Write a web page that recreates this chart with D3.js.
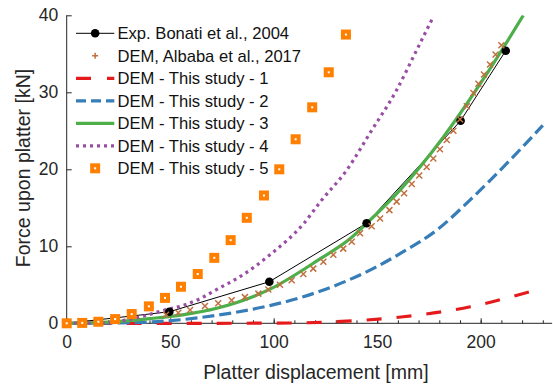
<!DOCTYPE html>
<html><head><meta charset="utf-8">
<script src="https://cdn.jsdelivr.net/npm/d3@7"></script>
<style>
html,body{margin:0;padding:0;background:#fff;}
text{font-family:"Liberation Sans",Arial,Helvetica,sans-serif;}
</style></head>
<body><svg id="c" width="553" height="385"></svg>
<script>
// ---- data ----
const xTicks = [0, 50, 100, 150, 200];
const yTicks = [0, 10, 20, 30, 40];
const legendLabels = ["Exp. Bonati et al., 2004", "DEM, Albaba et al., 2017", "DEM - This study - 1", "DEM - This study - 2", "DEM - This study - 3", "DEM - This study - 4", "DEM - This study - 5"];
const xLabel = "Platter displacement [mm]";
const yLabel = "Force upon platter [kN]";

const expBonati = [[0,0],[49.6,1.5],[97.9,5.4],[144.9,13.0],[190.3,26.3],[212.1,35.4]];
const albaba = [[48,1.1],[53.9,1.38],[59.6,1.73],[66.8,2.25],[73.2,2.6],[79.7,3.0],[86.1,3.4],[92.6,3.85],[97.4,4.4],[103,5.0],[108.7,5.6],[114.3,6.4],[119.1,7.1],[124,8.0],[128.8,8.9],[133.6,9.7],[137.7,10.6],[141.7,11.7],[147.3,12.6],[151.4,13.6],[155.9,14.7],[159.4,15.8],[163,16.9],[166.7,18.1],[170.3,19.2],[173.9,20.3],[177.1,21.4],[180.3,22.6],[183.6,23.8],[186.8,25.0],[190,26.5],[193.3,28.2],[196.5,29.9],[198.9,31.1],[201.6,32.3],[204.5,33.6],[207.2,34.9],[210,36.1]];
const study1 = [[0,0],[60,0],[101,0.02],[130,0.2],[162.6,0.85],[195,2.15],[225,4.2]];
const study2 = [[0,0],[25,0.05],[48,0.3],[81,1.4],[98.2,2.3],[114.3,3.45],[130.4,4.97],[146.5,6.9],[162.6,9.3],[178.8,12.1],[194.8,16.0],[214.2,21.2],[230,25.7]];
const study3 = [[0,0],[20,0.15],[40,0.6],[56,1.1],[72.5,1.95],[98,4.4],[122,8.3],[137,11.0],[145,13.0],[161,17.3],[182,24.2],[201,31.6],[220.6,40]];
const study4 = [[0,0],[16,0.05],[32,0.6],[48.5,1.8],[56,2.3],[64.4,3.2],[72.5,4.4],[83.7,6.05],[98.2,8.9],[114.3,12.9],[123.2,16.0],[135.3,19.9],[146.5,24.7],[159.4,30.3],[169.1,35.5],[177.1,39.8]];
const study5 = [[0,0],[7.5,0.05],[15.3,0.2],[23.4,0.55],[31.4,1.2],[39.7,2.2],[47.5,3.3],[55.2,4.75],[63.3,6.4],[71.3,8.5],[79.2,10.8],[87,13.7],[95.3,16.6],[102.7,20.0],[110.6,23.9],[118.6,28.05],[126.6,32.6],[134.9,37.5]];

// ---- styles ----
const axisCol = "#262626";
const C = {red:"#e41a1c", blue:"#377eb8", green:"#4daf4a", purple:"#984ea3", orange:"#ff7f00", brown:"#c0703f"};

const svg = d3.select("#c");
const x = d3.scaleLinear().domain([0, 234.5]).range([66.7, 552.1]);
const y = d3.scaleLinear().domain([0, 40]).range([323.3, 15.3]);

const line = d3.line().x(d=>x(d[0])).y(d=>y(d[1])).curve(d3.curveMonotoneX);
const lineLin = d3.line().x(d=>x(d[0])).y(d=>y(d[1]));

// axes
const gx = svg.append("g").attr("transform",`translate(0,${y(0)})`);
gx.call(d3.axisBottom(x).tickValues(d3.range(0,235,10)).tickSize(-3).tickFormat(""));
gx.selectAll(".tick line").attr("stroke",axisCol);
gx.select(".domain").attr("stroke",axisCol).attr("d",`M${x(0)},0H${x(234.5)}`);
const gx2 = svg.append("g").attr("transform",`translate(0,${y(0)})`)
  .call(d3.axisBottom(x).tickValues(xTicks).tickSize(-5));
gx2.select(".domain").remove();
gx2.selectAll(".tick line").attr("stroke",axisCol);
gx2.selectAll(".tick text").attr("fill",axisCol).attr("font-size",17.5).attr("dy","0.71em").attr("y",12);

const gy = svg.append("g").attr("transform",`translate(${x(0)},0)`)
  .call(d3.axisLeft(y).tickValues(yTicks).tickSize(-5));
gy.select(".domain").attr("stroke",axisCol).attr("d",`M0,${y(0)}V${y(40)}`);
gy.selectAll(".tick line").attr("stroke",axisCol);
gy.selectAll(".tick text").attr("fill",axisCol).attr("font-size",17.5).attr("x",-8.5);
svg.selectAll(".domain").attr("stroke-width",1);
svg.selectAll("g text").attr("font-family",'"Liberation Sans",Arial,sans-serif');

// axis labels
svg.append("text").attr("x",316).attr("y",378.5).attr("text-anchor","middle")
  .attr("font-size",19.5).attr("fill",axisCol).text(xLabel);
svg.append("text").attr("transform",`translate(30,168) rotate(-90)`).attr("text-anchor","middle")
  .attr("font-size",19.5).attr("fill",axisCol).text(yLabel);

// clip
svg.append("clipPath").attr("id","clip").append("rect").attr("x",x(0)).attr("y",y(40)).attr("width",x(234.5)-x(0)).attr("height",y(0)-y(40)+2);
const P = svg.append("g").attr("clip-path","url(#clip)");
const PM = svg.append("g");

// Exp
P.append("path").attr("d",lineLin(expBonati)).attr("fill","none").attr("stroke","#000").attr("stroke-width",1);
PM.selectAll("circle.exp").data(expBonati).join("circle").attr("class","exp")
  .attr("cx",d=>x(d[0])).attr("cy",d=>y(d[1])).attr("r",4.3).attr("fill","#000");

// Albaba markers
const cross = (s)=>`M${-s},${-s}L${s},${s}M${-s},${s}L${s},${-s}`;
PM.selectAll("path.alb").data(albaba).join("path").attr("class","alb")
  .attr("transform",d=>`translate(${x(d[0])},${y(d[1])})`)
  .attr("d",cross(3)).attr("stroke",C.brown).attr("stroke-width",1.5).attr("fill","none");

// Study lines
P.append("path").attr("d",line(study1)).attr("fill","none").attr("stroke",C.red).attr("stroke-width",3.2).attr("stroke-dasharray","15,15");
P.append("path").attr("d",line(study2)).attr("fill","none").attr("stroke",C.blue).attr("stroke-width",3.2).attr("stroke-dasharray","12,5");
P.append("path").attr("d",line(study3)).attr("fill","none").attr("stroke",C.green).attr("stroke-width",3.2);
P.append("path").attr("d",line(study4)).attr("fill","none").attr("stroke",C.purple).attr("stroke-width",3.2).attr("stroke-dasharray","3,4");

// Study 5 squares
const sq = PM.selectAll("g.s5").data(study5).join("g").attr("class","s5")
  .attr("transform",d=>`translate(${x(d[0])},${y(d[1])})`);
sq.append("rect").attr("x",-5).attr("y",-5).attr("width",10).attr("height",10).attr("fill",C.orange);
sq.append("rect").attr("x",-1).attr("y",-1).attr("width",2).attr("height",2).attr("fill","#fff");

// legend
const L = svg.append("g");
const ly0 = 33.3, ldy = 22.5, lx0 = 76, lx1 = 114.3, ltx = 117.5;
legendLabels.forEach((t,i)=>{
  const yy = ly0 + i*ldy;
  const g = L.append("g");
  const cx=(lx0+lx1)/2;
  if(i===0){
    g.append("line").attr("x1",lx0).attr("x2",lx1).attr("y1",yy).attr("y2",yy).attr("stroke","#000").attr("stroke-width",1);
    g.append("circle").attr("cx",cx).attr("cy",yy).attr("r",4.3).attr("fill","#000");
  } else if(i===1){
    g.append("path").attr("d",`M${cx-3},${yy}H${cx+3}M${cx},${yy-3}V${yy+3}`).attr("stroke",C.brown).attr("stroke-width",1.5);
  } else if(i===6){
    g.append("rect").attr("x",cx-5).attr("y",yy-5).attr("width",10).attr("height",10).attr("fill",C.orange);
    g.append("rect").attr("x",cx-1).attr("y",yy-1).attr("width",2).attr("height",2).attr("fill","#fff");
  } else {
    const col=[null,null,C.red,C.blue,C.green,C.purple][i];
    const dash=[null,null,"15,16","10,5",null,"3,4"][i];
    const l=g.append("line").attr("x1",lx0).attr("x2",lx1).attr("y1",yy).attr("y2",yy).attr("stroke",col).attr("stroke-width",3.2);
    if(dash) l.attr("stroke-dasharray",dash);
  }
  L.append("text").attr("x",ltx).attr("y",yy).attr("dy","0.36em").attr("font-size",16.6).attr("fill","#111").text(t);
});
</script></body></html>
